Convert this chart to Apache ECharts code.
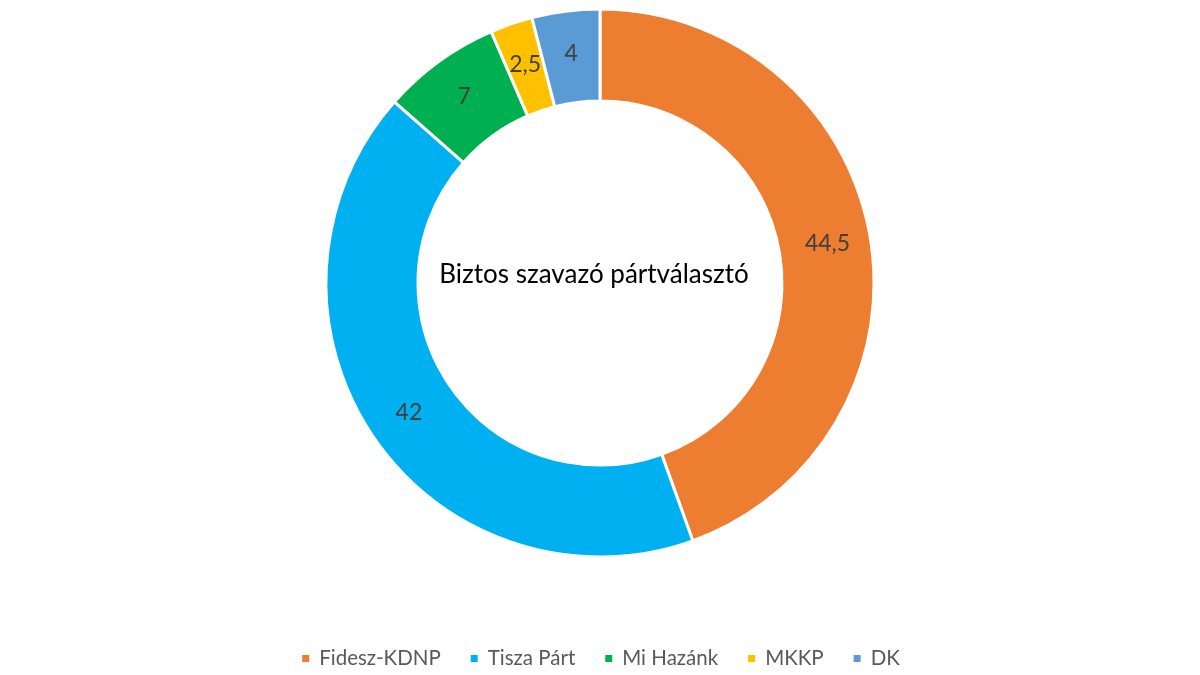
<!DOCTYPE html>
<html>
<head>
<meta charset="utf-8">
<script src="https://cdn.jsdelivr.net/npm/echarts@6/dist/echarts.min.js"></script>
<style>
  html, body { margin: 0; padding: 0; background: #fff; }
  #chart { width: 1200px; height: 675px; }
</style>
</head>
<body>
<div id="chart"></div>
<script>
var parties = ['Fidesz-KDNP', 'Tisza Párt', 'Mi Hazánk', 'MKKP', 'DK'];
var shares = [44.5, 42, 7, 2.5, 4];
var colors = ['#ED7D31', '#00B0F0', '#00B050', '#FFC000', '#5B9BD5'];
var centerTitle = 'Biztos szavazó pártválasztó';

var chart = echarts.init(document.getElementById('chart'));

var pieData = parties.map(function (p, i) {
    return { name: p, value: shares[i], itemStyle: { color: colors[i] } };
});

chart.setOption({
    animation: false,
    textStyle: { fontFamily: 'Lato' },
    legend: {
        top: 643,
        left: 'center',
        icon: 'rect',
        itemWidth: 9,
        itemHeight: 9,
        itemGap: 28,
        textStyle: { color: '#595959', fontSize: 20.5, fontFamily: 'Lato', padding: [0, 0, 0, 4] },
        data: parties
    },
    graphic: [{
        type: 'text',
        x: 594,
        y: 275,
        style: {
            text: centerTitle,
            fontSize: 26,
            fontFamily: 'Lato',
            fill: '#000',
            align: 'center',
            verticalAlign: 'middle'
        }
    }],
    series: [{
        type: 'pie',
        center: [600, 283],
        radius: [182, 274],
        startAngle: 90,
        clockwise: true,
        itemStyle: { borderColor: '#fff', borderWidth: 3 },
        label: {
            position: 'inside',
            color: '#404040',
            fontSize: 23,
            fontFamily: 'Lato',
            formatter: function (p) { return String(p.value).replace('.', ','); }
        },
        labelLine: { show: false },
        data: pieData
    }]
});
</script>
</body>
</html>
